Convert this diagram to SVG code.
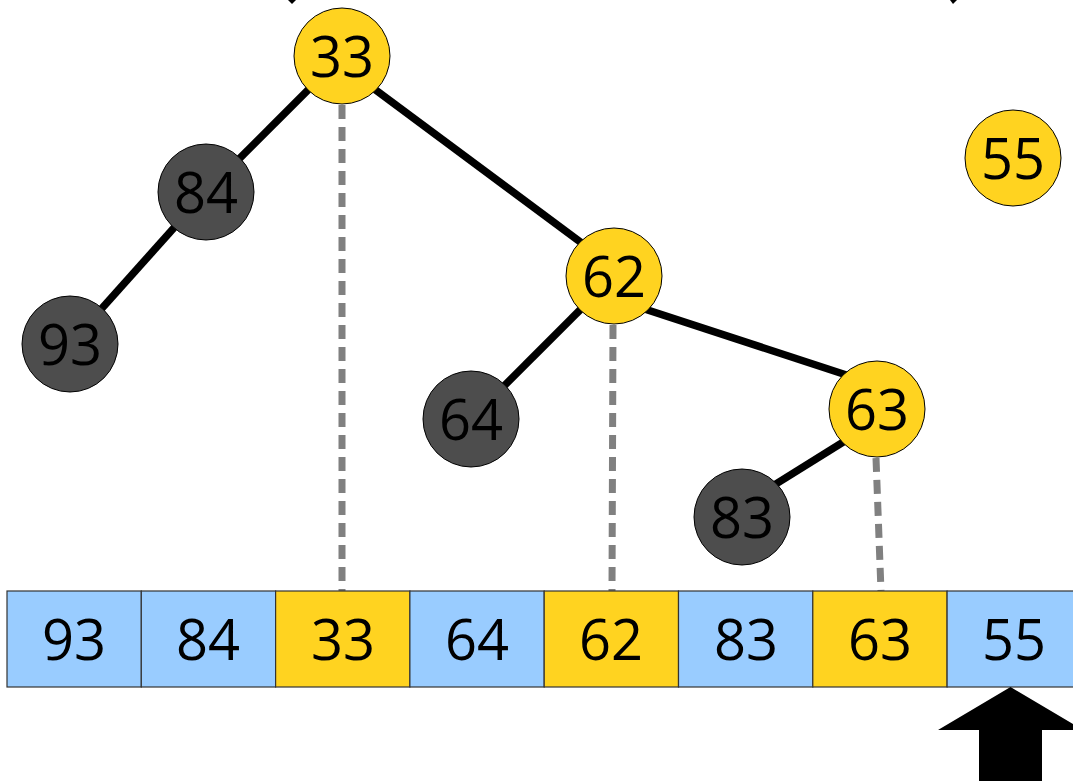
<svg xmlns="http://www.w3.org/2000/svg" width="1073" height="784" viewBox="0 0 1073 784">
<style>
.t{font-family:"Open Sans","Noto Sans",sans-serif;font-size:56px;fill:#000;text-anchor:middle}
.y{fill:#ffd320;stroke:#000;stroke-width:1}
.d{fill:#4d4d4d;stroke:#000;stroke-width:1}
.e{stroke:#000;stroke-width:7.5;fill:none}
.g{stroke:#808080;stroke-width:7;stroke-dasharray:14 8;fill:none}
.cb{fill:#99ccff;stroke:#333;stroke-width:1.2}
.cy{fill:#ffd320;stroke:#333;stroke-width:1.2}
</style>
<rect width="1073" height="784" fill="#fff"/>
<g id="connectors">
<line class="e" x1="342" y1="56" x2="206" y2="192"/>
<line class="e" x1="206" y1="192" x2="70" y2="344"/>
<line class="e" x1="342" y1="65" x2="614" y2="267"/>
<line class="e" x1="614" y1="276" x2="471" y2="419"/>
<line class="e" x1="614" y1="299" x2="877" y2="385"/>
<line class="e" x1="877" y1="421" x2="742" y2="505"/>
<line class="g" x1="342" y1="105" x2="342" y2="591"/>
<line class="g" x1="613" y1="325" x2="612" y2="591"/>
<line class="g" x1="876" y1="458" x2="881" y2="591"/>
<polygon points="288,0 296,0 292,4" fill="#000"/>
<polygon points="950,0 957,0 953,4" fill="#000"/>
</g>
<g id="n33"><circle class="y" cx="342" cy="56" r="48"/><text class="t" x="342" y="77">33</text></g>
<g id="n84"><circle class="d" cx="206" cy="192" r="48"/><text class="t" x="206" y="213">84</text></g>
<g id="n93"><circle class="d" cx="70" cy="344" r="48"/><text class="t" x="70" y="365">93</text></g>
<g id="n62"><circle class="y" cx="614" cy="276" r="48"/><text class="t" x="614" y="297">62</text></g>
<g id="n64"><circle class="d" cx="471" cy="419" r="48"/><text class="t" x="471" y="440">64</text></g>
<g id="n63"><circle class="y" cx="877" cy="409" r="48"/><text class="t" x="877" y="430">63</text></g>
<g id="n83"><circle class="d" cx="742" cy="517" r="48"/><text class="t" x="742" y="538">83</text></g>
<g id="n55"><circle class="y" cx="1013" cy="158" r="48"/><text class="t" x="1013" y="179">55</text></g>
<g id="array">
<rect class="cb" x="7" y="591" width="134.3" height="96"/>
<rect class="cb" x="141.3" y="591" width="134.3" height="96"/>
<rect class="cy" x="275.6" y="591" width="134.3" height="96"/>
<rect class="cb" x="409.9" y="591" width="134.3" height="96"/>
<rect class="cy" x="544.2" y="591" width="134.3" height="96"/>
<rect class="cb" x="678.5" y="591" width="134.3" height="96"/>
<rect class="cy" x="812.8" y="591" width="134.3" height="96"/>
<rect class="cb" x="947.1" y="591" width="134.3" height="96"/>
<text class="t" x="74" y="660">93</text>
<text class="t" x="208" y="660">84</text>
<text class="t" x="343" y="660">33</text>
<text class="t" x="477" y="660">64</text>
<text class="t" x="611" y="660">62</text>
<text class="t" x="746" y="660">83</text>
<text class="t" x="880" y="660">63</text>
<text class="t" x="1014" y="660">55</text>
</g>
<g id="pointer"><polygon points="1010.5,687 938,730 979,730 979,781 1042,781 1042,730 1083,730" fill="#000"/></g>
</svg>
